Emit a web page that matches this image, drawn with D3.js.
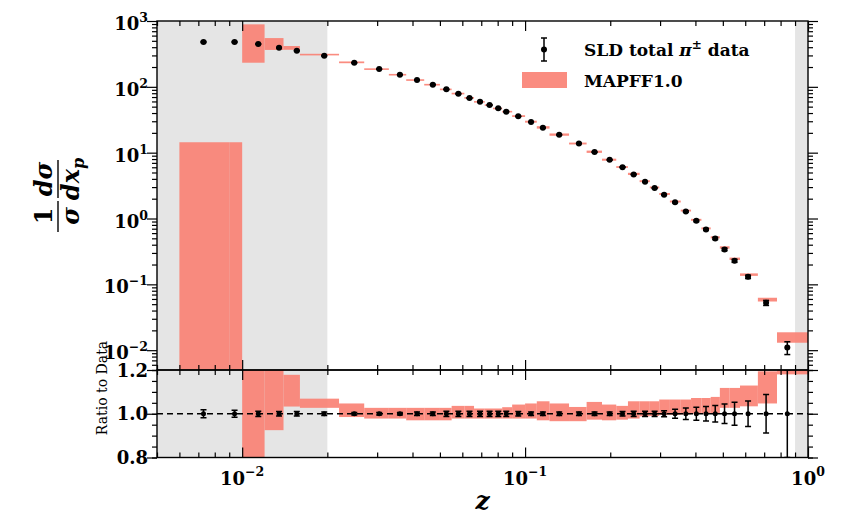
<!DOCTYPE html>
<html>
<head>
<meta charset="utf-8">
<script src="https://cdn.jsdelivr.net/npm/d3@7"></script>
<style>
  body { margin: 0; background: #fff; }
  svg { display: block; }
  text { font-family: "DejaVu Serif", serif; fill: #000; }
</style>
</head>
<body>
<svg id="chart" width="843" height="518"></svg>
<script>
// SLD total pi+- data
const zVals = [0.0073, 0.0094, 0.0114, 0.0135, 0.0156, 0.0195, 0.0249, 0.0305, 0.0361, 0.0415,
  0.0472, 0.0527, 0.0581, 0.0636, 0.0693, 0.0749, 0.0804, 0.0858, 0.0946, 0.105,
  0.1156, 0.132, 0.155, 0.176, 0.199, 0.221, 0.242, 0.2655, 0.287, 0.310,
  0.339, 0.370, 0.403, 0.436, 0.470, 0.507, 0.550, 0.614, 0.711, 0.845];

const sigmaVals = [480, 480, 447, 393, 354, 297, 232, 186, 153, 127,
  108, 91.6, 78.5, 67.5, 59.4, 52.9, 47.1, 41.9, 35.6, 29.2,
  23.9, 18.7, 13.8, 10.2, 7.78, 6.03, 4.68, 3.61, 2.90, 2.29,
  1.76, 1.28, 0.922, 0.683, 0.498, 0.339, 0.228, 0.130, 0.0524, 0.0110];

// relative uncertainty of each point
const relErr = [0.018, 0.016, 0.012, 0.010, 0.010, 0.008, 0.006, 0.006, 0.006, 0.008,
  0.008, 0.012, 0.012, 0.012, 0.012, 0.012, 0.012, 0.012, 0.010, 0.008,
  0.008, 0.008, 0.008, 0.008, 0.008, 0.010, 0.012, 0.012, 0.012, 0.014,
  0.021, 0.026, 0.030, 0.033, 0.038, 0.045, 0.053, 0.058, 0.088, 0.22];

// bin edges (41 edges for 40 bins)
const binEdges = [0.006, 0.009, 0.010, 0.012, 0.014, 0.016, 0.022, 0.027, 0.033, 0.038,
  0.044, 0.050, 0.055, 0.061, 0.066, 0.072, 0.077, 0.083, 0.090, 0.100,
  0.110, 0.122, 0.143, 0.165, 0.187, 0.210, 0.231, 0.254, 0.276, 0.298,
  0.325, 0.355, 0.386, 0.420, 0.453, 0.488, 0.528, 0.575, 0.665, 0.777, 1.0];

// MAPFF1.0 band, as ratio to data (low / high edge)
const bandLo = [0, 0, 0.52, 0.925, 1.033, 1.027, 0.985, 0.978, 0.978, 0.970,
  0.970, 0.970, 0.978, 0.978, 0.978, 0.978, 0.978, 0.978, 0.978, 0.978,
  0.970, 0.966, 0.966, 0.973, 0.970, 0.973, 0.978, 0.988, 0.990, 0.995,
  0.995, 0.997, 1.000, 1.000, 1.000, 1.027, 1.027, 1.034, 1.047, 1.18];
const bandHi = [0.030, 0.030, 1.99, 1.40, 1.178, 1.069, 1.047, 1.027, 1.027, 1.027,
  1.027, 1.027, 1.036, 1.036, 1.024, 1.024, 1.024, 1.030, 1.042, 1.047,
  1.057, 1.047, 1.031, 1.054, 1.042, 1.036, 1.057, 1.057, 1.057, 1.065,
  1.065, 1.065, 1.072, 1.072, 1.077, 1.118, 1.118, 1.129, 1.194, 1.70];

// excluded regions (grey)
const cutRanges = [[0.005, 0.02], [0.9, 1.0]];

const xTickExps = [-2, -1, 0];
const yTickExps = [-2, -1, 0, 1, 2, 3];
const ratioTicks = [0.8, 1.0, 1.2];
const ratioLabels = ["0.8", "1.0", "1.2"];

const bandColor = "#fa8072";
const greyColor = "#e5e5e5";

const svg = d3.select("#chart");
const pLeft = 157, pRight = 808, pTop = 21, pMid = 370, pBottom = 457.5;

const x = d3.scaleLog().domain([0.005, 1]).range([pLeft, pRight]);
const y = d3.scaleLog().domain([0.005, 1000]).range([pMid, pTop]).clamp(true);
const yr = d3.scaleLinear().domain([0.8, 1.2]).range([pBottom, pMid]).clamp(true);

const points = zVals.map((z, i) => ({
  z, v: sigmaVals[i], e: relErr[i],
  x0: binEdges[i], x1: binEdges[i + 1],
  lo: bandLo[i], hi: bandHi[i]
}));

const defs = svg.append("defs");
defs.append("clipPath").attr("id", "clip-main")
  .append("rect").attr("x", pLeft).attr("y", pTop).attr("width", pRight - pLeft).attr("height", pMid - pTop);
defs.append("clipPath").attr("id", "clip-ratio")
  .append("rect").attr("x", pLeft).attr("y", pMid).attr("width", pRight - pLeft).attr("height", pBottom - pMid);

// grey excluded regions
svg.append("g").selectAll("rect")
  .data(cutRanges)
  .join("rect")
  .attr("x", d => x(d[0]))
  .attr("y", pTop)
  .attr("width", d => x(d[1]) - x(d[0]))
  .attr("height", pBottom - pTop)
  .attr("fill", greyColor);

// ---- main panel ----
const main = svg.append("g").attr("clip-path", "url(#clip-main)");

main.append("g").selectAll("rect")
  .data(points)
  .join("rect")
  .attr("x", d => x(d.x0))
  .attr("width", d => x(d.x1) - x(d.x0))
  .attr("y", d => y(d.v * d.hi))
  .attr("height", d => Math.max(1.6, y(d.v * d.lo) - y(d.v * d.hi)))
  .attr("fill", bandColor)
  .attr("fill-opacity", 0.9);

function drawPoints(g, yPos, yLo, yHi, r) {
  const pts = g.append("g").selectAll("g")
    .data(points)
    .join("g");
  pts.append("line")
    .attr("x1", d => x(d.z)).attr("x2", d => x(d.z))
    .attr("y1", yLo).attr("y2", yHi)
    .attr("stroke", "#000").attr("stroke-width", 1.5);
  pts.append("line")
    .attr("x1", d => x(d.z) - 3).attr("x2", d => x(d.z) + 3)
    .attr("y1", yLo).attr("y2", yLo)
    .attr("stroke", "#000").attr("stroke-width", 1.5);
  pts.append("line")
    .attr("x1", d => x(d.z) - 3).attr("x2", d => x(d.z) + 3)
    .attr("y1", yHi).attr("y2", yHi)
    .attr("stroke", "#000").attr("stroke-width", 1.5);
  pts.append("circle")
    .attr("cx", d => x(d.z))
    .attr("cy", yPos)
    .attr("r", r)
    .attr("fill", "#000");
}

drawPoints(main,
  d => y(d.v),
  d => y(d.v * (1 - d.e)),
  d => y(d.v * (1 + d.e)),
  3);

// ---- ratio panel ----
const ratio = svg.append("g").attr("clip-path", "url(#clip-ratio)");

ratio.append("g").selectAll("rect")
  .data(points)
  .join("rect")
  .attr("x", d => x(d.x0))
  .attr("width", d => x(d.x1) - x(d.x0))
  .attr("y", d => yr(d.hi))
  .attr("height", d => yr(d.lo) - yr(d.hi))
  .attr("fill", bandColor)
  .attr("fill-opacity", 0.9);

ratio.append("line")
  .attr("x1", pLeft).attr("x2", pRight)
  .attr("y1", yr(1)).attr("y2", yr(1))
  .attr("stroke", "#000").attr("stroke-width", 1.3)
  .attr("stroke-dasharray", "6,4");

drawPoints(ratio,
  d => yr(1),
  d => yr(1 - d.e),
  d => yr(1 + d.e),
  2.5);

// ---- ticks ----
const isDecade = v => Math.abs(Math.log10(v) - Math.round(Math.log10(v))) < 1e-9;
const xAll = x.ticks();
const xMajor = xAll.filter(isDecade);
const xMinor = xAll.filter(v => !isDecade(v));
const yAll = y.ticks();
const yMajor = yAll.filter(isDecade);
const yMinor = yAll.filter(v => !isDecade(v));
const rMinor = d3.range(0.8, 1.2001, 0.05);

function tickRow(axis, scale, values, size, tx, ty) {
  svg.append("g")
    .attr("transform", `translate(${tx},${ty})`)
    .attr("stroke-width", 1.2)
    .call(axis(scale).tickValues(values).tickSize(-size).tickFormat(""))
    .call(g => g.select(".domain").remove());
}

[[d3.axisTop, pTop], [d3.axisBottom, pMid], [d3.axisTop, pMid], [d3.axisBottom, pBottom]].forEach(([ax, ty]) => {
  tickRow(ax, x, xMajor, 10, 0, ty);
  tickRow(ax, x, xMinor, 5, 0, ty);
});
[[d3.axisRight, pLeft], [d3.axisLeft, pRight]].forEach(([ax, tx]) => {
  tickRow(ax, y, yMajor, 10, tx, 0);
  tickRow(ax, y, yMinor, 5, tx, 0);
  tickRow(ax, yr, ratioTicks, 10, tx, 0);
  tickRow(ax, yr, rMinor, 5, tx, 0);
});

// frames
svg.append("rect").attr("x", pLeft).attr("y", pTop).attr("width", pRight - pLeft).attr("height", pMid - pTop)
  .attr("fill", "none").attr("stroke", "#000").attr("stroke-width", 1.4);
svg.append("rect").attr("x", pLeft).attr("y", pMid).attr("width", pRight - pLeft).attr("height", pBottom - pMid)
  .attr("fill", "none").attr("stroke", "#000").attr("stroke-width", 1.4);

// ---- tick labels ----
const yLab = svg.append("g").selectAll("text")
  .data(yTickExps)
  .join("text")
  .attr("x", pLeft - 9)
  .attr("y", d => y(Math.pow(10, d)) + 9)
  .attr("text-anchor", "end")
  .attr("font-size", 18)
  .attr("font-weight", "bold");
yLab.append("tspan").text("10");
yLab.append("tspan").attr("dy", -8).attr("font-size", 12.5)
  .text(d => d < 0 ? "\u2212" + Math.abs(d) : String(d));

svg.append("g").selectAll("text")
  .data(ratioTicks)
  .join("text")
  .attr("x", pLeft - 9)
  .attr("y", d => yr(d) + 6.5)
  .attr("text-anchor", "end")
  .attr("font-size", 18)
  .attr("font-weight", "bold")
  .text((d, i) => ratioLabels[i]);

const xLab = svg.append("g").selectAll("text")
  .data(xTickExps)
  .join("text")
  .attr("x", d => x(Math.pow(10, d)))
  .attr("y", 485)
  .attr("text-anchor", "middle")
  .attr("font-size", 18)
  .attr("font-weight", "bold");
xLab.append("tspan").text("10");
xLab.append("tspan").attr("dy", -9).attr("font-size", 12.5)
  .text(d => d < 0 ? "\u2212" + Math.abs(d) : String(d));

// ---- axis titles ----
svg.append("text")
  .attr("x", (pLeft + pRight) / 2)
  .attr("y", 509)
  .attr("text-anchor", "middle")
  .attr("font-size", 25)
  .attr("font-weight", "bold")
  .attr("font-style", "italic")
  .text("z");

const yTitle = svg.append("g").attr("transform", "translate(58,196) rotate(-90)");
yTitle.append("line").attr("x1", -36).attr("x2", -5).attr("y1", 0).attr("y2", 0)
  .attr("stroke", "#000").attr("stroke-width", 1.4);
yTitle.append("line").attr("x1", -2).attr("x2", 36).attr("y1", 0).attr("y2", 0)
  .attr("stroke", "#000").attr("stroke-width", 1.4);
yTitle.append("text").attr("x", -20).attr("y", -6).attr("text-anchor", "middle")
  .attr("font-size", 24).attr("font-weight", "bold").text("1");
yTitle.append("text").attr("x", 17).attr("y", -6).attr("text-anchor", "middle")
  .attr("font-size", 24).attr("font-weight", "bold").attr("font-style", "italic").text("d\u03c3");
yTitle.append("text").attr("x", -20).attr("y", 21).attr("text-anchor", "middle")
  .attr("font-size", 24).attr("font-weight", "bold").attr("font-style", "italic").text("\u03c3");
const dxp = yTitle.append("text").attr("x", 17).attr("y", 21).attr("text-anchor", "middle")
  .attr("font-size", 24).attr("font-weight", "bold").attr("font-style", "italic");
dxp.append("tspan").text("dx");
dxp.append("tspan").attr("dy", 5).attr("font-size", 16).text("p");

svg.append("text")
  .attr("transform", "translate(107,388) rotate(-90)")
  .attr("text-anchor", "middle")
  .attr("font-size", 14)
  .text("Ratio to Data");

// ---- legend ----
const legend = svg.append("g");
legend.append("line").attr("x1", 544).attr("x2", 544).attr("y1", 38).attr("y2", 61)
  .attr("stroke", "#000").attr("stroke-width", 1.5);
[38, 61].forEach(cy => legend.append("line")
  .attr("x1", 541).attr("x2", 547).attr("y1", cy).attr("y2", cy)
  .attr("stroke", "#000").attr("stroke-width", 1.5));
legend.append("circle").attr("cx", 544).attr("cy", 49.5).attr("r", 3).attr("fill", "#000");
const l1 = legend.append("text").attr("x", 584).attr("y", 56)
  .attr("font-size", 17).attr("font-weight", "bold");
l1.append("tspan").text("SLD total ");
l1.append("tspan").attr("font-style", "italic").text("\u03c0");
l1.append("tspan").attr("dy", -7).attr("font-size", 12).text("\u00b1");
l1.append("tspan").attr("dy", 7).text(" data");

legend.append("rect").attr("x", 522).attr("y", 72).attr("width", 45).attr("height", 16)
  .attr("fill", bandColor).attr("fill-opacity", 0.9);
legend.append("text").attr("x", 584).attr("y", 87)
  .attr("font-size", 17).attr("font-weight", "bold").text("MAPFF1.0");
</script>
</body>
</html>
